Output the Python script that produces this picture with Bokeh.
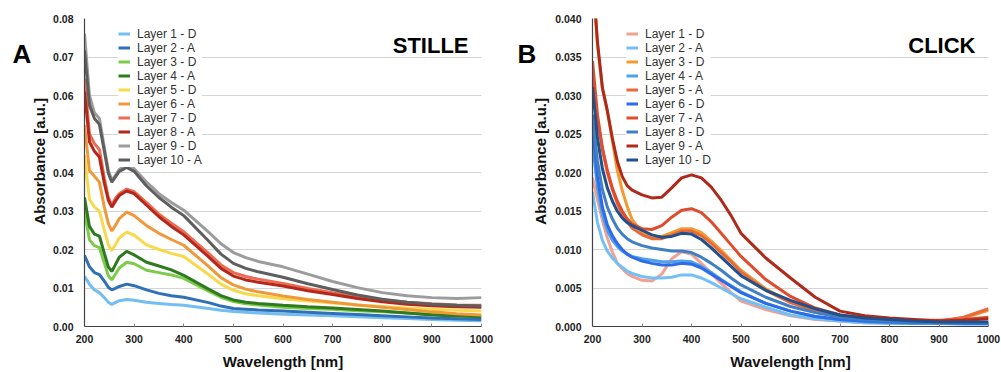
import math
from bokeh.plotting import figure
from bokeh.models import Range1d, FixedTicker, Legend, LegendItem, Label, PrintfTickFormatter
from bokeh.layouts import row
from bokeh.core.properties import value
from bokeh.embed import file_html
from bokeh.resources import INLINE

# ---------------- data ----------------
X_TICKS = [200, 300, 400, 500, 600, 700, 800, 900, 1000]
A_YTICKS = [0.00, 0.01, 0.02, 0.03, 0.04, 0.05, 0.06, 0.07, 0.08]
B_YTICKS = [0.000, 0.005, 0.010, 0.015, 0.020, 0.025, 0.030, 0.035, 0.040]

A_LABELS = ["Layer 1 - D", "Layer 2 - A", "Layer 3 - D", "Layer 4 - A", "Layer 5 - D",
            "Layer 6 - A", "Layer 7 - D", "Layer 8 - A", "Layer 9 - D", "Layer 10 - A"]
B_LABELS = ["Layer 1 - D", "Layer 2 - A", "Layer 3 - D", "Layer 4 - A", "Layer 5 - A",
            "Layer 6 - D", "Layer 7 - A", "Layer 8 - D", "Layer 9 - A", "Layer 10 - D"]

# Panel A (STILLE) wavelengths [nm]
WL_A = [200, 210, 220, 230, 240, 248, 255, 262, 270, 285, 300, 325, 350, 375, 400, 450, 475,
        500, 525, 550, 600, 650, 700, 750, 800, 850, 900, 950, 1000]
A_L1 = [.0130, .0110, .0095, .0088, .0075, .0063, .0057, .0062, .0067, .0070, .0068, .0063, .0060, .0057,
        .0055, .0047, .0042, .0039, .0037, .0035, .0032, .0030, .0028, .0025, .0023, .0021, .0018, .0016, .0015]
A_L2 = [.0185, .0155, .0140, .0135, .0118, .0102, .0095, .0099, .0104, .0110, .0106, .0095, .0086, .0080,
        .0076, .0062, .0053, .0047, .0045, .0043, .0040, .0037, .0034, .0031, .0028, .0025, .0022, .0020, .0018]
A_L3 = [.0300, .0225, .0210, .0205, .0165, .0132, .0121, .0135, .0152, .0167, .0163, .0146, .0140, .0134,
        .0125, .0092, .0076, .0065, .0059, .0056, .0050, .0047, .0045, .0041, .0038, .0035, .0032, .0030, .0028]
A_L4 = [.0335, .0260, .0240, .0235, .0190, .0155, .0143, .0160, .0180, .0195, .0186, .0167, .0157, .0147,
        .0133, .0097, .0080, .0069, .0063, .0060, .0055, .0051, .0048, .0044, .0040, .0035, .0030, .0027, .0025]
A_L5 = [.0445, .0330, .0310, .0300, .0250, .0212, .0197, .0212, .0230, .0245, .0237, .0212, .0200, .0190,
        .0182, .0135, .0110, .0094, .0085, .0080, .0072, .0066, .0061, .0056, .0052, .0048, .0045, .0042, .0040]
A_L6 = [.0523, .0405, .0390, .0375, .0310, .0268, .0248, .0262, .0280, .0297, .0288, .0262, .0242, .0226,
        .0211, .0156, .0127, .0108, .0097, .0090, .0079, .0070, .0063, .0056, .0050, .0044, .0038, .0033, .0030]
A_L7 = [.0644, .0500, .0475, .0460, .0385, .0335, .0316, .0332, .0345, .0357, .0350, .0322, .0292, .0268,
        .0246, .0190, .0160, .0140, .0130, .0123, .0112, .0099, .0088, .0078, .0069, .0063, .0059, .0056, .0055]
A_L8 = [.0610, .0480, .0455, .0440, .0372, .0328, .0310, .0325, .0340, .0352, .0345, .0315, .0285, .0260,
        .0238, .0181, .0151, .0131, .0121, .0115, .0105, .0093, .0083, .0073, .0064, .0058, .0054, .0051, .0050]
A_L9 = [.0761, .0600, .0555, .0540, .0465, .0405, .0380, .0392, .0408, .0420, .0410, .0375, .0345, .0322,
        .0302, .0245, .0215, .0192, .0179, .0169, .0155, .0136, .0117, .0101, .0088, .0080, .0075, .0073, .0075]
A_L10 = [.0717, .0575, .0540, .0525, .0455, .0398, .0375, .0388, .0403, .0413, .0403, .0365, .0335, .0310,
         .0288, .0222, .0188, .0164, .0151, .0142, .0128, .0111, .0096, .0082, .0071, .0063, .0058, .0055, .0053]

# Panel B (CLICK) wavelengths [nm]
WL_B = [200, 210, 220, 230, 240, 250, 260, 270, 280, 300, 320, 340, 360, 380, 400, 420, 440, 460,
        480, 500, 550, 600, 650, 700, 750, 800, 850, 900, 950, 1000]
B_L1 = [.0193, .0165, .0138, .0115, .0097, .0082, .0075, .0069, .0065, .0060, .0059, .0068, .0088, .0097,
        .0094, .0082, .0069, .0056, .0044, .0033, .0022, .0014, .0009, .0007, .0005, .0005, .0005, .0006,
        .0011, .0022]
B_L2 = [.0175, .0135, .0112, .0098, .0089, .0082, .0077, .0072, .0069, .0065, .0063, .0063, .0064, .0067,
        .0067, .0063, .0057, .0050, .0043, .0036, .0025, .0015, .0010, .0007, .0005, .0004, .0004, .0004,
        .0003, .0003]
B_L3 = [.0460, .0365, .0310, .0280, .0242, .0203, .0177, .0156, .0139, .0122, .0115, .0117, .0122, .0127,
        .0127, .0122, .0111, .0099, .0086, .0073, .0049, .0032, .0020, .0013, .0009, .0007, .0006, .0007,
        .0011, .0021]
B_L4 = [.0238, .0180, .0145, .0125, .0112, .0104, .0098, .0094, .0091, .0088, .0086, .0084, .0084, .0085,
        .0084, .0078, .0070, .0061, .0053, .0045, .0030, .0020, .0013, .0009, .0006, .0005, .0004, .0004,
        .0004, .0004]
B_L5 = [.0326, .0270, .0230, .0200, .0178, .0160, .0146, .0136, .0128, .0119, .0114, .0114, .0119, .0124,
        .0124, .0118, .0108, .0096, .0084, .0071, .0047, .0031, .0020, .0013, .0009, .0007, .0006, .0007,
        .0012, .0023]
B_L6 = [.0260, .0195, .0155, .0132, .0118, .0108, .0100, .0094, .0090, .0085, .0082, .0080, .0080, .0082,
        .0081, .0076, .0068, .0060, .0052, .0044, .0030, .0020, .0013, .0009, .0007, .0006, .0005, .0005,
        .0004, .0004]
B_L7 = [.0345, .0275, .0232, .0203, .0180, .0163, .0150, .0140, .0133, .0127, .0126, .0131, .0142, .0151,
        .0153, .0148, .0136, .0121, .0106, .0091, .0061, .0039, .0024, .0015, .0011, .0009, .0008, .0008,
        .0009, .0012]
B_L8 = [.0275, .0215, .0178, .0155, .0140, .0128, .0120, .0114, .0110, .0105, .0102, .0100, .0098, .0098,
        .0096, .0090, .0082, .0073, .0063, .0054, .0038, .0026, .0018, .0012, .0009, .0007, .0006, .0005,
        .0005, .0005]
B_L9 = [.0460, .0370, .0310, .0280, .0245, .0215, .0195, .0183, .0177, .0171, .0167, .0168, .0180, .0193,
        .0197, .0193, .0181, .0164, .0144, .0121, .0089, .0063, .0038, .0020, .0014, .0011, .0009, .0007,
        .0008, .0010]
B_L10 = [.0311, .0245, .0205, .0180, .0163, .0150, .0141, .0135, .0131, .0125, .0119, .0116, .0117, .0121,
         .0120, .0113, .0102, .0090, .0078, .0066, .0047, .0034, .0023, .0015, .0011, .0009, .0007, .0006,
         .0006, .0006]

A_SERIES = [A_L1, A_L2, A_L3, A_L4, A_L5, A_L6, A_L7, A_L8, A_L9, A_L10]
B_SERIES = [B_L1, B_L2, B_L3, B_L4, B_L5, B_L6, B_L7, B_L8, B_L9, B_L10]

A_COLORS = ["#74BDF0", "#3070B8", "#7CCB4A", "#2F7A1F", "#F6DA4B",
            "#F0993A", "#EC6A50", "#B3281D", "#9C9C9C", "#5E5E5E"]
B_COLORS = ["#F3A090", "#72C0F5", "#F39A30", "#4CA0EC", "#E8693A",
            "#2E6BE6", "#E04C2E", "#3F80C4", "#AE2A1A", "#21508A"]

FONT = "Liberation Sans"
H = 372


def side_strip(width, letter, letter_x, ytitle_x):
    """Narrow strip left of a panel: panel letter and rotated y-axis title."""
    s = figure(width=width, height=H, output_backend="svg", toolbar_location=None,
               x_range=Range1d(0, width), y_range=Range1d(0, H), min_border=0,
               x_axis_location=None, y_axis_location=None)
    s.outline_line_color = None
    s.xgrid.grid_line_color = None
    s.ygrid.grid_line_color = None
    s.text(x=[letter_x], y=[H - 42.7], text=[letter], text_font=value(FONT),
           text_font_style="bold", text_font_size="26px", text_color="black",
           text_baseline="alphabetic", text_align="left")
    s.text(x=[ytitle_x], y=[H - 172.5], text=["Absorbance [a.u.]"], angle=math.pi / 2,
           text_font=value(FONT), text_font_style="bold", text_font_size="15px",
           text_color="#111111", text_baseline="middle", text_align="center")
    return s


def make_panel(width, left_b, right_b, ymax, yticks, yfmt, wl, series, labels, colors,
               title, frame_w):
    p = figure(width=width, height=H, output_backend="svg", toolbar_location=None,
               x_range=Range1d(200, 1000), y_range=Range1d(0, ymax),
               min_border_left=left_b, min_border_right=right_b,
               min_border_top=18, min_border_bottom=45)
    p.outline_line_color = None
    p.xgrid.grid_line_color = None
    p.ygrid.grid_line_color = "#D4D4D4"
    p.ygrid.grid_line_width = 1.2

    p.xaxis.ticker = FixedTicker(ticks=X_TICKS)
    p.yaxis.ticker = FixedTicker(ticks=yticks)
    p.yaxis.formatter = PrintfTickFormatter(format=yfmt)
    for ax in (p.xaxis, p.yaxis):
        ax.axis_line_color = "#444444"
        ax.axis_line_width = 1.2
        ax.minor_tick_line_color = None
        ax.major_label_text_font = FONT
        ax.major_label_text_font_style = "bold"
        ax.major_label_text_font_size = "10.5px"
        ax.major_label_text_color = "#222222"
    p.xaxis.axis_label = "Wavelength [nm]"
    p.xaxis.axis_label_text_font = FONT
    p.xaxis.axis_label_text_font_style = "bold"
    p.xaxis.axis_label_text_font_size = "15px"
    p.xaxis.axis_label_text_color = "#111111"
    p.xaxis.major_tick_in = 3
    p.xaxis.major_tick_out = 0
    p.xaxis.major_tick_line_color = "#888888"
    p.xaxis.major_label_standoff = 8
    p.xaxis.axis_label_standoff = 7
    p.yaxis.major_tick_in = 0
    p.yaxis.major_tick_out = 0
    p.yaxis.major_label_standoff = 11

    items = []
    for vals, lab, col in zip(series, labels, colors):
        r = p.line(wl, vals, line_color=col, line_width=3)
        items.append(LegendItem(label=lab, renderers=[r]))
    leg = Legend(items=items, location=(34, 159.5),
                 background_fill_color="white", background_fill_alpha=1.0,
                 border_line_color=None, label_text_font=FONT,
                 label_text_font_size="12px", label_text_color="#333333",
                 glyph_width=12, glyph_height=13, label_height=13,
                 label_standoff=7, padding=3, spacing=0, margin=0)
    p.add_layout(leg)

    p.add_layout(Label(x=frame_w - 13, y=281.5, x_units="screen", y_units="screen", text=title,
                       text_font=FONT, text_font_style="bold", text_font_size="22px",
                       text_color="black", text_align="right", text_baseline="alphabetic"))
    return p


sA = side_strip(49, "A", 12, 39)
pA = make_panel(451, 35, 19, 0.08, A_YTICKS, "%.2f", WL_A, A_SERIES, A_LABELS, A_COLORS,
                "STILLE", 397)
sB = side_strip(51, "B", 17, 39.5)
pB = make_panel(450, 41, 13, 0.04, B_YTICKS, "%.3f", WL_B, B_SERIES, B_LABELS, B_COLORS,
                "CLICK", 396)

layout = row(sA, pA, sB, pB)
open("out.html", "w").write(file_html(layout, INLINE))
